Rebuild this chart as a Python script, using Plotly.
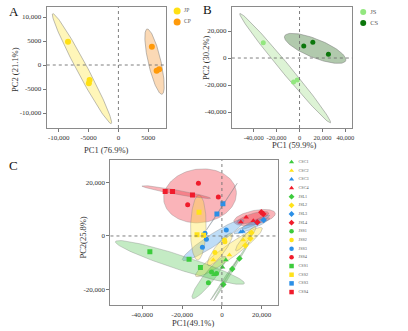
import numpy as np
import plotly.graph_objects as go

W, H = 408, 331
SERIF = "Liberation Serif"

# ---------------- Panel A: JP vs CP ----------------
a_groups = ["JP", "CP"]
a_colors = ["#FFE014", "#FF9A0A"]
a_fills = ["rgba(255,232,80,0.40)", "rgba(245,160,70,0.40)"]
a_pc1 = [[-8450, -4830, -4950], [5600, 6400, 6830]]
a_pc2 = [[4850, -3125, -3800], [3800, -1200, -900]]
# ellipse: centre, half major-axis vector, minor/major ratio
a_ell_c = [(-6100, -750), (6050, 700)]
a_ell_u = [(4900, -11450), (1250, -6800)]
a_ell_r = [0.085, 0.19]
a_xticks = [-10000, -5000, 0, 5000]
a_xtext = ["-10,000", "-5000", "0", "5000"]
a_yticks = [10000, 5000, 0, -5000, -10000]
a_ytext = ["10,000", "5000", "0", "-5000", "-10,000"]

# ---------------- Panel B: JS vs CS ----------------
b_groups = ["JS", "CS"]
b_colors = ["#93E77F", "#0B760B"]
b_fills = ["rgba(170,225,150,0.40)", "rgba(60,120,50,0.40)"]
b_pc1 = [[-31600, -5200, -2000], [3700, 11600, 25200]]
b_pc2 = [[11300, -17800, -16300], [8900, 11600, 2700]]
b_ell_c = [(-12500, -7500), (13650, 7150)]
b_ell_u = [(39500, -40500), (26650, -9150)]
b_ell_r = [0.065, 0.28]
b_xticks = [-40000, -20000, 0, 20000, 40000]
b_xtext = ["-40,000", "-20,000", "0", "20,000", "40,000"]
b_yticks = [20000, 0, -20000, -40000]
b_ytext = ["20,000", "0", "-20,000", "-40,000"]

# ---------------- Panel C: 16 sub-groups ----------------
c_groups = ["CSC1", "CSC2", "CSC3", "CSC4",
            "JSL1", "JSL2", "JSL3", "JSL4",
            "JSS1", "JSS2", "JSS3", "JSS4",
            "CSS1", "CSS2", "CSS3", "CSS4"]
palette = ["#3DCB3D", "#FFE21A", "#2B8FE6", "#F01C2C"]
palette_fill = ["rgba(61,190,61,0.30)", "rgba(255,226,40,0.33)",
                "rgba(43,143,230,0.30)", "rgba(240,28,44,0.33)"]
c_symbols = ["triangle-up"] * 4 + ["diamond"] * 4 + ["circle"] * 4 + ["square"] * 4
c_pc1 = [
    [300, 2000, -4000], [-4300, 3800, 10700], [9500, 10500], [9500, 12200, 15800],
    [700, 5200, 8800], [14800, 14300, 11800], [17700, 21000], [17800, 19800, 20800],
    [-5200, -2700, -6800], [1300, 1500, -3500], [-8500, -7800, -9800, 2200], [-11800, -1800, -17200],
    [-36200, -16500, -10800], [-11500, -12500, -9200], [500, -2500], [-28500, -24800, -14800],
]
c_pc2 = [
    [-11700, -9000, -14500], [-9000, -7100, -1500], [1500, 1700], [5200, 7000, 5700],
    [-18100, -12300, -8400], [1200, -900, -3600], [5000, 6000], [5100, 8900, 8200],
    [-13500, -14000, -17500], [-1500, -2200, -6200], [1000, -1200, -4200, 2200], [19700, 14600, 11700],
    [-5900, -8700, -11800], [8900, 500, 300], [12000, 8200], [16600, 16600, 15300],
]
c_ell_c = [
    (1800, -15500), (3500, -6000), (15000, 3800), (16400, 6900),
    (4800, -13200), (12000, -1000), (17000, 5200), (15500, 6800),
    (-6500, -15500), (-1000, -5000), (-4400, -1500), (-11000, 15000),
    (-21100, -9900), (-11850, 3150), (0, 11000), (-22950, 16400),
]
c_ell_u = [
    (7500, 8400), (16700, 9000), (9000, 2800), (10400, 1600),
    (9000, 11000), (5000, 4500), (7000, 2500), (8000, 1800),
    (8300, 7800), (6000, 6000), (15400, 7500), (18200, 1800),
    (32400, -7800), (350, 12150), (7700, 8700), (17250, -2300),
]
c_ell_r = [0.03, 0.16, 0.15, 0.33,
           0.03, 0.2, 0.15, 0.25,
           0.2, 0.25, 0.16, 0.73,
           0.105, 0.24, 0.012, 0.06]
c_xticks = [-40000, -20000, 0, 20000]
c_xtext = ["-40,000", "-20,000", "0", "20,000"]
c_yticks = [20000, 0, -20000]
c_ytext = ["20,000", "0", "-20,000"]

# ---------------- layout geometry (pixels) ----------------
boxes = {
    "A": dict(x0=47, x1=167, y0=7, y1=128, xr=[-12000, 8000], yr=[-13125, 12083]),
    "B": dict(x0=233, x1=354, y0=7, y1=128, xr=[-59000, 46000], yr=[-51850, 37800]),
    "C": dict(x0=111, x1=279, y0=160, y1=305, xr=[-56000, 28000], yr=[-25800, 28400]),
}


def px_scale(b):
    sx = (b["x1"] - b["x0"]) / (b["xr"][1] - b["xr"][0])
    sy = (b["y1"] - b["y0"]) / (b["yr"][1] - b["yr"][0])
    return sx, sy


def ellipse(c, u, r, b, n=120):
    sx, sy = px_scale(b)
    t = np.linspace(0, 2 * np.pi, n)
    ux, uy = u
    vx = -uy * sy / sx * r
    vy = ux * sx / sy * r
    return c[0] + ux * np.cos(t) + vx * np.sin(t), c[1] + uy * np.cos(t) + vy * np.sin(t)


fig = go.Figure()


def add_ellipse(c, u, r, b, fill, xa, ya, line="rgba(120,120,120,0.7)"):
    ex, ey = ellipse(c, u, r, b)
    fig.add_trace(go.Scatter(x=ex, y=ey, mode="lines", fill="toself", fillcolor=fill,
                             line=dict(color=line, width=0.7), xaxis=xa, yaxis=ya,
                             hoverinfo="skip", showlegend=False))


# Panel A
for i, g in enumerate(a_groups):
    add_ellipse(a_ell_c[i], a_ell_u[i], a_ell_r[i], boxes["A"], a_fills[i], "x", "y")
for i, g in enumerate(a_groups):
    fig.add_trace(go.Scatter(x=a_pc1[i], y=a_pc2[i], mode="markers", name=g,
                             marker=dict(color=a_colors[i], size=6), xaxis="x", yaxis="y",
                             showlegend=False))

# Panel B
for i, g in enumerate(b_groups):
    add_ellipse(b_ell_c[i], b_ell_u[i], b_ell_r[i], boxes["B"], b_fills[i], "x2", "y2")
for i, g in enumerate(b_groups):
    fig.add_trace(go.Scatter(x=b_pc1[i], y=b_pc2[i], mode="markers", name=g,
                             marker=dict(color=b_colors[i], size=5), xaxis="x2", yaxis="y2",
                             showlegend=False))

# Panel C
for i, g in enumerate(c_groups):
    add_ellipse(c_ell_c[i], c_ell_u[i], c_ell_r[i], boxes["C"], palette_fill[i % 4], "x3", "y3",
                line="rgba(130,130,130,0.5)")
for i, g in enumerate(c_groups):
    fig.add_trace(go.Scatter(x=c_pc1[i], y=c_pc2[i], mode="markers", name=g,
                             marker=dict(color=palette[i % 4], size=5, symbol=c_symbols[i]),
                             xaxis="x3", yaxis="y3", showlegend=False))

# Hand-drawn legends on a full-page overlay axis (pixel units)
leg_specs = [
    (a_groups, a_colors, ["circle"] * 2, 178, 11, 11, 7, 5.5),
    (b_groups, b_colors, ["circle"] * 2, 365, 12, 11, 6, 6.5),
    (c_groups, [palette[i % 4] for i in range(16)], c_symbols, 293, 162, 8.67, 4.5, 4.2),
]
for names, cols, syms, lx, ly, step, msize, fsize in leg_specs:
    ys = [ly + k * step for k in range(len(names))]
    fig.add_trace(go.Scatter(x=[lx] * len(names), y=ys, mode="markers",
                             marker=dict(color=cols, symbol=syms, size=msize),
                             xaxis="x4", yaxis="y4", hoverinfo="skip", showlegend=False))
    fig.add_trace(go.Scatter(x=[lx + 7] * len(names), y=ys, mode="text", text=names,
                             textposition="middle right",
                             textfont=dict(family=SERIF, size=fsize, color="#555"),
                             xaxis="x4", yaxis="y4", hoverinfo="skip", showlegend=False))


def axis(b, which, tv, tt, anchor, fsize=7):
    if which == "x":
        dom = [b["x0"] / W, b["x1"] / W]
        rng = b["xr"]
    else:
        dom = [1 - b["y1"] / H, 1 - b["y0"] / H]
        rng = b["yr"]
    return dict(domain=dom, range=rng, anchor=anchor, tickvals=tv, ticktext=tt,
                ticks="outside", ticklen=3, tickwidth=0.8, tickcolor="#777",
                showline=True, mirror=True, linecolor="#8a8a8a", linewidth=1,
                showgrid=False, zeroline=False, tickangle=0,
                tickfont=dict(family=SERIF, size=fsize, color="#333"))


shapes = []
for xa, ya in [("x", "y"), ("x2", "y2"), ("x3", "y3")]:
    shapes.append(dict(type="line", xref=xa, yref=ya + " domain", x0=0, x1=0, y0=0, y1=1,
                       line=dict(color="#707070", width=0.9, dash="dot")))
    shapes.append(dict(type="line", xref=xa + " domain", yref=ya, x0=0, x1=1, y0=0, y1=0,
                       line=dict(color="#707070", width=0.9, dash="dot")))


def ann(text, x, y, size, angle=0, color="#333"):
    return dict(text=text, x=x / W, y=1 - y / H, xref="paper", yref="paper",
                showarrow=False, textangle=angle, xanchor="center", yanchor="middle",
                font=dict(family=SERIF, size=size, color=color))


annotations = [
    ann("A", 14, 11, 13, color="#111"),
    ann("B", 209, 10, 13, color="#111"),
    ann("C", 14, 165, 13, color="#111"),
    ann("PC1 (76.9%)", 107, 150, 8.5),
    ann("PC2 (21.1%)", 15, 69, 8.5, angle=-90),
    ann("PC1 (59.9%)", 296, 145, 8.5),
    ann("PC2 (30.2%)", 207, 57, 8.5, angle=-90),
    ann("PC1(49.1%)", 194, 323, 8.5),
    ann("PC2(25.8%)", 83, 238, 8.5, angle=-90),
]

fig.update_layout(
    width=W, height=H, margin=dict(l=0, r=0, t=0, b=0),
    paper_bgcolor="white", plot_bgcolor="rgba(0,0,0,0)", showlegend=False,
    xaxis=axis(boxes["A"], "x", a_xticks, a_xtext, "y"),
    yaxis=axis(boxes["A"], "y", a_yticks, a_ytext, "x"),
    xaxis2=axis(boxes["B"], "x", b_xticks, b_xtext, "y2", fsize=6.5),
    yaxis2=axis(boxes["B"], "y", b_yticks, b_ytext, "x2"),
    xaxis3=axis(boxes["C"], "x", c_xticks, c_xtext, "y3"),
    yaxis3=axis(boxes["C"], "y", c_yticks, c_ytext, "x3"),
    xaxis4=dict(domain=[0, 1], range=[0, W], visible=False, anchor="y4"),
    yaxis4=dict(domain=[0, 1], range=[H, 0], visible=False, anchor="x4"),
    shapes=shapes, annotations=annotations,
)

fig.write_html("out.html")
